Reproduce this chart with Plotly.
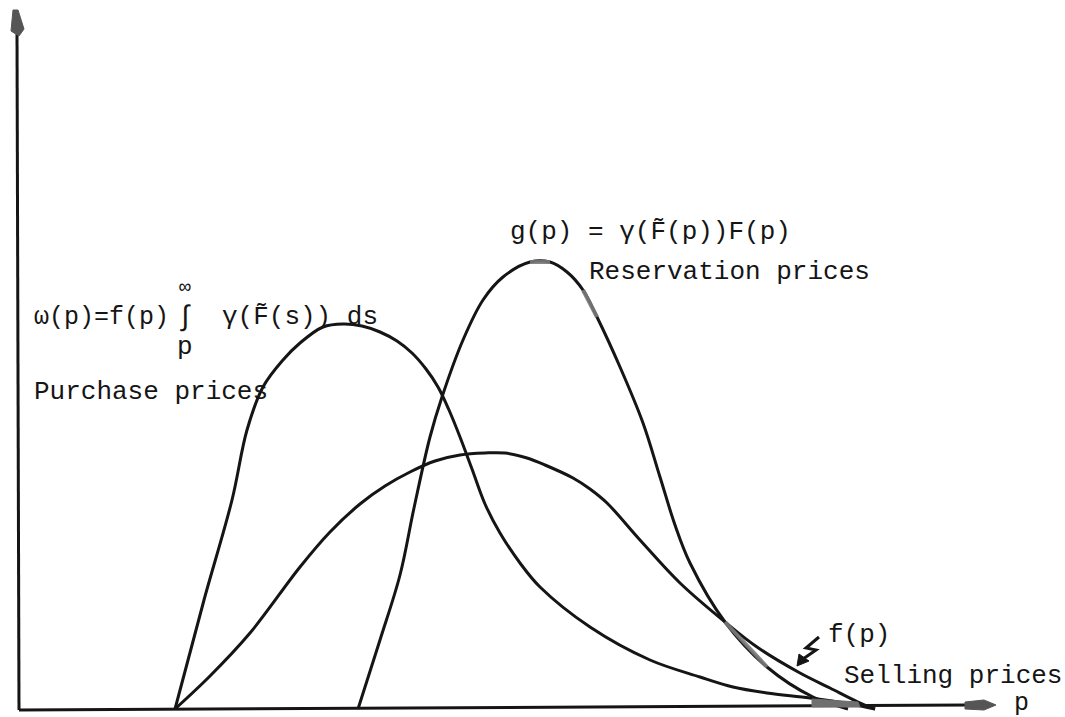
import plotly.graph_objects as go

# Price densities sketched over price p
purchase_p = [1.56, 1.85, 2.13, 2.28, 2.44, 2.64, 2.81, 3.04, 3.24, 3.43, 3.61, 3.78, 3.93, 4.07,
              4.19, 4.30, 4.41, 4.53, 4.66, 4.81, 5.01, 5.21, 5.71, 6.31, 6.81, 7.14, 7.48, 7.91,
              8.31, 8.56]
purchase_w = [0.00, 1.09, 2.09, 2.79, 3.22, 3.49, 3.66, 3.82, 3.85, 3.83, 3.77, 3.68, 3.56, 3.40,
              3.22, 2.99, 2.72, 2.40, 2.05, 1.76, 1.46, 1.22, 0.82, 0.49, 0.32, 0.22, 0.16, 0.11,
              0.05, 0.00]

selling_p = [1.56, 1.91, 2.31, 2.81, 3.11, 3.41, 3.66, 3.91, 4.16, 4.41, 4.66, 4.86, 5.08, 5.26,
             5.54, 5.71, 5.88, 6.21, 6.61, 7.06, 7.38, 7.81, 8.11, 8.39, 8.56]
selling_f = [0.00, 0.33, 0.76, 1.42, 1.77, 2.05, 2.23, 2.37, 2.48, 2.54, 2.56, 2.56, 2.51, 2.44,
             2.31, 2.20, 2.06, 1.69, 1.26, 0.87, 0.62, 0.36, 0.21, 0.07, 0.00]

reserve_p = [3.39, 3.61, 3.81, 3.95, 4.11, 4.23, 4.44, 4.64, 4.84, 5.11, 5.31, 5.48, 5.64, 5.78,
             6.01, 6.24, 6.41, 6.56, 6.71, 7.06, 7.48, 7.94, 8.29]
reserve_g = [0.00, 0.69, 1.34, 2.01, 2.72, 3.12, 3.69, 4.09, 4.32, 4.47, 4.47, 4.37, 4.19, 3.92,
             3.42, 2.86, 2.32, 1.84, 1.46, 0.87, 0.42, 0.12, 0.00]

W, H = 1065, 717
FONT = "Liberation Mono, Courier New, monospace"
INK = "#151515"
GREY = "#7a7a7a"


def X(px):
    return px / W


def Y(py):
    return 1 - py / H


def path(points, close=False):
    s = "M " + " L ".join(f"{X(a):.5f},{Y(b):.5f}" for a, b in points)
    return s + (" Z" if close else "")


fig = go.Figure()
curve = dict(color=INK, width=3, shape="spline", smoothing=1.0)
for xs, ys in [(purchase_p, purchase_w), (selling_p, selling_f), (reserve_p, reserve_g)]:
    fig.add_trace(go.Scatter(x=xs, y=ys, mode="lines", line=curve, hoverinfo="skip"))

# grey marker touches along the reservation-price curve
for a, b in [(9, 11), (12, 14), (19, 21)]:
    fig.add_trace(go.Scatter(x=reserve_p[a:b], y=reserve_g[a:b], mode="lines",
                             line=dict(color=GREY, width=4), opacity=0.9, hoverinfo="skip"))


def shape(pts, close=False, fill=None, color=INK, width=3):
    d = dict(type="path", xref="paper", yref="paper", path=path(pts, close),
             line=dict(color=color, width=width))
    if fill:
        d["fillcolor"] = fill
    return d


shapes = [
    # axes
    shape([(19, 710), (968, 705)]),
    shape([(19, 710), (17, 34)]),
    # arrow heads
    shape([(13, 10), (18, 10), (24, 29), (19, 36), (11, 31)], True, "#555", "#555", 1),
    shape([(965, 702), (984, 700), (996, 705), (984, 710), (965, 709)], True, "#555", "#555", 1),
    # grey smudge where the tails reach the axis
    shape([(812, 699), (858, 702), (860, 707), (812, 707)], True, "#6f6f6f", "#6f6f6f", 1),
    # zig-zag pointer to f(p)
    shape([(819, 637), (806, 648), (816, 650), (803, 659)], width=3),
    shape([(797, 666), (799, 654), (809, 661)], True, INK, INK, 1),
]

texts = [
    ("g(p) = γ(F̃(p))F(p)", 508, 232, 26, "left"),
    ("Reservation prices", 587, 272, 26, "left"),
    ("ω(p)=f(p)", 32, 317, 25, "left"),
    ("∞", 185, 287, 20, "center"),
    ("∫", 185, 318, 28, "center"),
    ("p", 185, 347, 26, "center"),
    ("γ(F̃(s)) ds", 220, 317, 26, "left"),
    ("Purchase prices", 32, 392, 26, "left"),
    ("f(p)", 826, 635, 26, "left"),
    ("Selling prices", 842, 676, 26, "left"),
    ("p", 1012, 703, 25, "left"),
]
annotations = [
    dict(text=t, x=X(px), y=Y(py), xref="paper", yref="paper", xanchor=anc, yanchor="middle",
         showarrow=False, font=dict(family=FONT, size=sz, color=INK))
    for t, px, py, sz, anc in texts
]

fig.update_layout(
    width=W, height=H, margin=dict(l=0, r=0, t=0, b=0),
    paper_bgcolor="white", plot_bgcolor="white", showlegend=False,
    xaxis=dict(range=[-0.19, 10.46], visible=False, fixedrange=True),
    yaxis=dict(range=[-0.08, 7.09], visible=False, fixedrange=True),
    shapes=shapes, annotations=annotations,
)

fig.write_html("out.html")
